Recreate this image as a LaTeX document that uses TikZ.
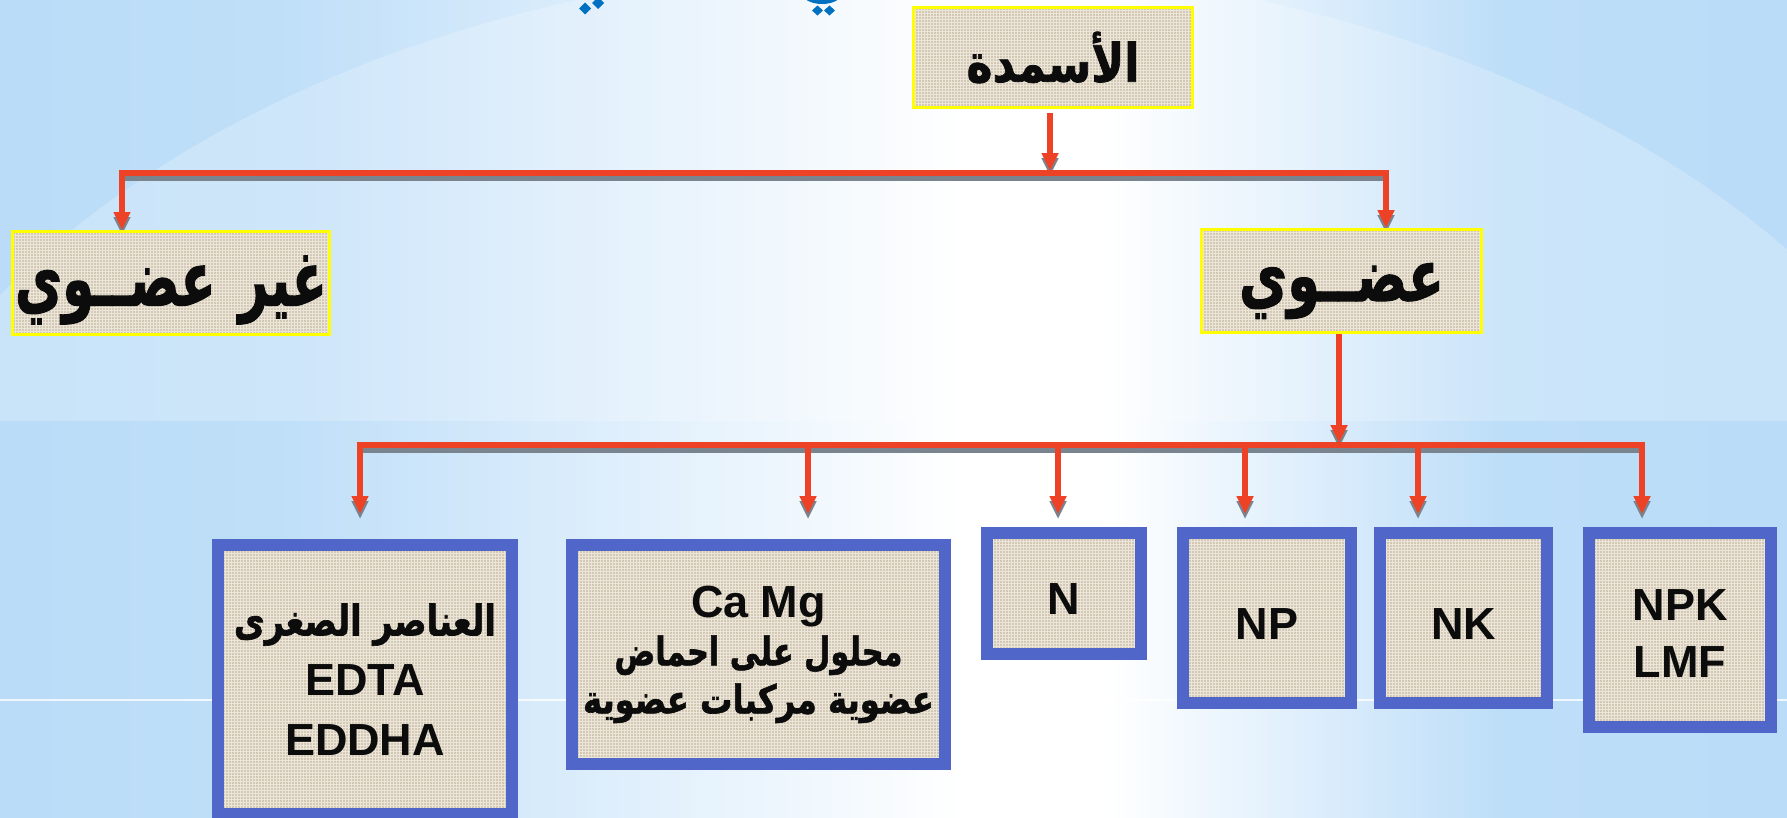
\documentclass[tikz,border=0pt]{standalone}
\usepackage{fontspec}
\setmainfont{Liberation Sans}
\newfontfamily\arabicfont[Script=Arabic, BoldFont={DejaVu Sans Bold}, BoldFeatures={FakeBold=1.5}]{DejaVu Sans}
\TeXXeTstate=1
\usetikzlibrary{arrows.meta,patterns}
\definecolor{bgblue}{RGB}{186,220,248}
\definecolor{conred}{RGB}{238,66,38}
\definecolor{shgray}{RGB}{122,132,142}
\definecolor{boxblue}{RGB}{80,102,200}
\definecolor{linen}{RGB}{211,200,180}
\definecolor{linenlt}{RGB}{236,230,218}
\definecolor{ybord}{RGB}{255,255,0}
\definecolor{txt}{RGB}{12,12,12}
\definecolor{titleblue}{RGB}{0,112,192}
\pgfdeclarelayer{bglayer}
\pgfdeclarelayer{shadowlayer}
\pgfsetlayers{bglayer,shadowlayer,main}
\pgfdeclarehorizontalshading{bgsh}{100bp}{color(0bp)=(bgblue); color(25bp)=(bgblue); color(33bp)=(bgblue!92!white); color(52bp)=(white); color(56bp)=(white); color(67bp)=(bgblue!95!white); color(75bp)=(bgblue); color(100bp)=(bgblue)}
\newcommand\ar[1]{{\arabicfont\beginR #1\endR}}
\newcommand\txtdrop[1]{\rule{0pt}{#1}}
\newcommand\conn[2]{%
  \begin{pgfonlayer}{shadowlayer}\draw[connshadow,#1] #2;\end{pgfonlayer}%
  \draw[connline,#1] #2;}
\tikzset{
  >={Triangle[length=18pt,width=16pt]},
  connline/.style={draw=conred, line width=5.5pt},
  connshadow/.style={draw=shgray, line width=5.5pt, transform canvas={yshift=-5pt}},
  linenfill/.style={preaction={fill=linen}, preaction={pattern=grid, pattern color=linenlt}},
  ybox/.style={linenfill, draw=ybord, line width=3pt, inner sep=0pt, text=txt,
    font=\fontsize{40}{48}\selectfont\bfseries},
  bbox/.style={linenfill, draw=boxblue, line width=12pt, inner sep=0pt, text=txt, align=center,
    font=\fontsize{45}{57}\selectfont\bfseries},
  tdot/.style={fill=titleblue, draw=none},
}
\begin{document}
\begin{tikzpicture}[x=1pt,y=-1pt]
\useasboundingbox (0,0) rectangle (1787,817);
% background
\begin{pgfonlayer}{bglayer}
  \shade[shading=bgsh] (0,0) rectangle (1787,817);
  \begin{scope}
    \clip (0,0) rectangle (1787,420);
    \fill[white, fill opacity=0.22] (918,700) ellipse [x radius=1099, y radius=736];
  \end{scope}
  \draw[white, line width=1.5pt, opacity=0.8] (0,700) -- (1787,700);
\end{pgfonlayer}

% fragments of the cut-off title
\begin{scope}
  \clip (0,0) rectangle (1787,817);
  \fill[tdot] (579,8.5) -- ++(6,-6) -- ++(6,6) -- ++(-6,6) -- cycle;
  \fill[tdot] (592,3) -- ++(6,-6) -- ++(6,6) -- ++(-6,6) -- cycle;
  \fill[tdot] (812,10.5) -- ++(5.5,-5) -- ++(5.5,5) -- ++(-5.5,5) -- cycle;
  \fill[tdot] (824,10.5) -- ++(5.5,-5) -- ++(5.5,5) -- ++(-5.5,5) -- cycle;
  \fill[tdot, even odd rule] (822,-7) ellipse [x radius=20, y radius=11] (822,-9) ellipse [x radius=15, y radius=8];
\end{scope}

% top level
\node[ybox, minimum width=279pt, minimum height=100pt] (top) at (1053,57.5)
  {\resizebox{173pt}{50pt}{\ar{الأسمدة}}};
\node[ybox, minimum width=317pt, minimum height=103pt] (inorg) at (171,283)
  {\txtdrop{64pt}\resizebox{312pt}{50pt}{\ar{غير\hspace{0.45em}عضــوي}}};
\node[ybox, minimum width=280pt, minimum height=103pt] (org) at (1341.5,281)
  {\txtdrop{58pt}\resizebox{205pt}{38pt}{\ar{عضــوي}}};

% bottom level
\node[bbox, minimum width=294pt, minimum height=269pt, font=\fontsize{45}{60}\selectfont\bfseries] (micro) at (365,679.5)
  {\resizebox{262pt}{32pt}{\ar{العناصر الصغرى}}\\EDTA\\EDDHA};
\node[bbox, minimum width=373pt, minimum height=219pt, font=\fontsize{45}{48}\selectfont\bfseries] (camg) at (758.5,654.5)
  {Ca Mg\\\resizebox{288pt}{30pt}{\ar{محلول على احماض}}\\\resizebox{351pt}{30pt}{\ar{عضوية مركبات عضوية}}};
\node[bbox, minimum width=154pt, minimum height=121pt] (n) at (1064,593.5) {\txtdrop{42pt}N};
\node[bbox, minimum width=168pt, minimum height=170pt] (np) at (1267,618) {\txtdrop{42pt}NP};
\node[bbox, minimum width=167pt, minimum height=170pt] (nk) at (1463.5,618) {\txtdrop{42pt}NK};
\node[bbox, minimum width=182pt, minimum height=194pt] (npk) at (1680,630) {\txtdrop{38pt}NPK\\LMF};

% bus coordinates
\coordinate (j1) at (1050,173);
\coordinate (b1l) at (122,173);
\coordinate (b1r) at (1386,173);
\coordinate (j2) at (1339,445);
\coordinate (b2a) at (360,445);
\coordinate (b2b) at (808,445);
\coordinate (b2c) at (1058,445);
\coordinate (b2d) at (1245,445);
\coordinate (b2e) at (1418,445);
\coordinate (b2f) at (1642,445);

% connectors
\conn{->}{([yshift=-4pt]top.south -| j1) -- ([yshift=2pt]j1)}
\conn{<->}{(inorg.north -| b1l) -- (b1l) -- (b1r) -- (org.north -| b1r)}
\conn{->}{(org.south -| j2) -- ([yshift=2pt]j2)}
\conn{<->}{([yshift=25pt]micro.north -| b2a) -- (b2a) -- (b2f) -- ([yshift=13pt]npk.north -| b2f)}
\conn{->}{(b2b) -- ([yshift=25pt]camg.north -| b2b)}
\conn{->}{(b2c) -- ([yshift=13pt]n.north -| b2c)}
\conn{->}{(b2d) -- ([yshift=13pt]np.north -| b2d)}
\conn{->}{(b2e) -- ([yshift=13pt]nk.north -| b2e)}
\end{tikzpicture}
\end{document}
